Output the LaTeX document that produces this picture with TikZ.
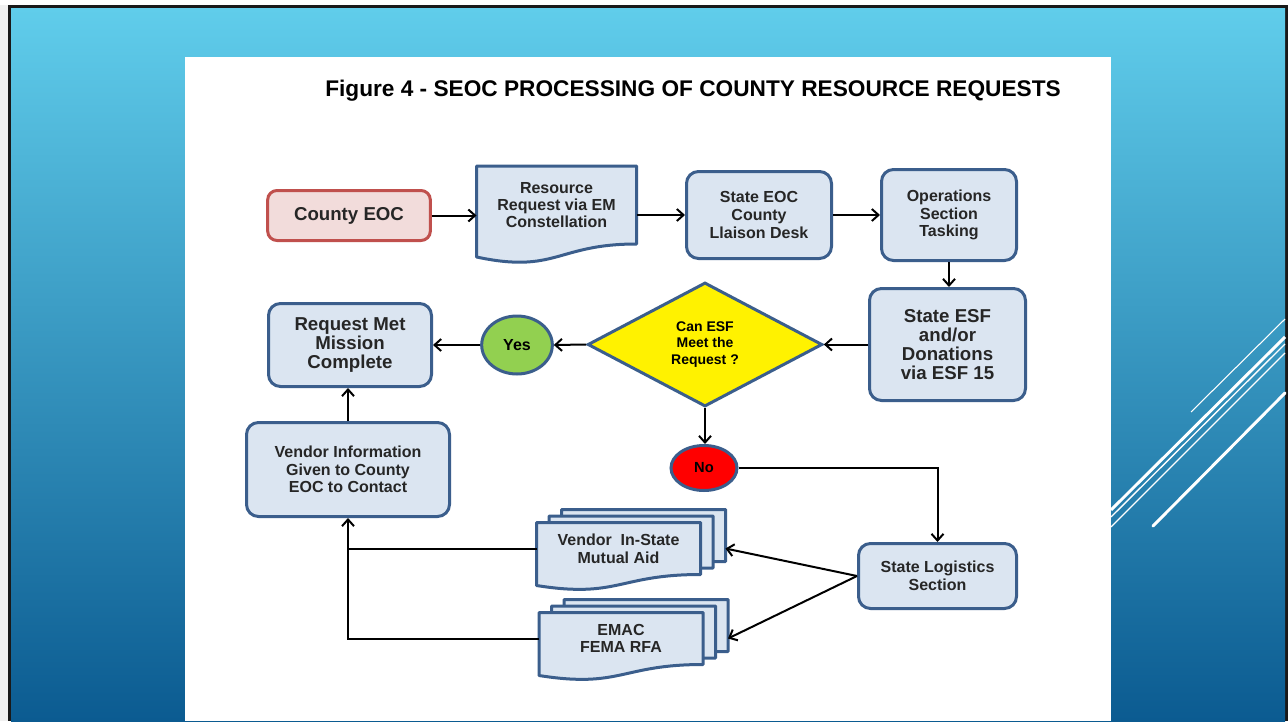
\documentclass[tikz,border=0pt]{standalone}
\usepackage{fontspec}
\setmainfont{Liberation Sans}
\usetikzlibrary{arrows.meta,shapes.geometric,calc}
\definecolor{boxfill}{HTML}{DBE5F1}
\definecolor{boxline}{HTML}{3B5E8C}
\definecolor{countyfill}{HTML}{F2DCDB}
\definecolor{countyline}{HTML}{C0504D}
\definecolor{yesgreen}{HTML}{92D050}
\definecolor{skytop}{HTML}{60CDEB}
\definecolor{skybot}{HTML}{0B5B91}
\pgfdeclarelayer{slide}
\pgfdeclarelayer{paper}
\pgfsetlayers{slide,paper,main}
% page outline with the wavy lower edge, hung on a node
\newcommand{\docpage}[3]{\draw[page] (#1.north west) -- (#1.north east) -- (#1.south east)
	.. controls (#1.south) and ($(#1.south)+(0,#3)$) .. ($(#1.south west)+(0,#2)$) -- cycle;}
\begin{document}
\begin{tikzpicture}[x=0.75pt,y=-0.75pt,
	box/.style={rectangle, rounded corners=9pt, draw=boxline, fill=boxfill, line width=2.25pt, align=center, text=black!85, inner sep=2pt},
	sheet/.style={rectangle, inner sep=0pt, outer sep=0pt, align=center, text=black!85, minimum width=123pt, minimum height=39pt},
	page/.style={draw=boxline, fill=boxfill, line width=2.25pt, line join=round},
	link/.style={-{Straight Barb[length=5pt,width=9pt]}, line width=1.5pt},
	big/.style={font=\fontsize{14}{14.25}\selectfont\bfseries},
	small/.style={font=\fontsize{12}{13.2}\selectfont\bfseries}]
	\useasboundingbox (0,0) rectangle (1288,721);
	% slide behind the figure
	\begin{pgfonlayer}{slide}
		\fill[white] (0,0) rectangle (1288,721);
		\fill[black!6] (0,5) rectangle (8,721);
		\fill[black!90] (8,5) rectangle (1288,721);
		\shade[top color=skytop, bottom color=skybot] (11,8) rectangle (1285,721);
		\draw[white, line width=0.8pt] (1191,412) -- (1285,319);
		\draw[white, line width=2.2pt] (1111,510) -- (1285,337);
		\draw[white, line width=1pt] (1111,517) -- (1285,344);
		\draw[white, line width=1pt] (1111,527) -- (1285,353);
		\draw[white, line width=2.2pt, line cap=round] (1153,526) -- (1285,393);
		\fill[white] (185,57) rectangle (1111,721);
	\end{pgfonlayer}

	\node (title) at (693, 91)	[font=\fontsize{17}{20}\selectfont\bfseries]	{Figure 4 - SEOC PROCESSING OF COUNTY RESOURCE REQUESTS};
	\node (county) at (349, 215.5)	[box, big, rounded corners=7pt, draw=countyline, fill=countyfill, minimum width=122pt, minimum height=37.5pt]	{County EOC};
	\node (resource) at (556.5, 205)	[sheet, font=\fontsize{12}{12.75}\selectfont\bfseries, minimum width=120pt, minimum height=58.5pt]	{Resource\\Request via EM\\Constellation};
	\node (stateeoc) at (759, 215)	[box, small, minimum width=108.75pt, minimum height=65.25pt]	{State EOC\\County\\Llaison Desk};
	\node (ops) at (949, 215)	[box, small, minimum width=101.25pt, minimum height=68.25pt]	{Operations\\Section\\Tasking};
	\node (esf) at (947.5, 344.5)	[box, big, minimum width=117pt, minimum height=84pt]	{State ESF\\and/or\\Donations\\via ESF 15};
	\node (decision) at (705, 344.5)	[diamond, draw=boxline, fill=yellow, line width=2.25pt, inner sep=0pt, minimum width=176pt, minimum height=93pt, align=center, font=\fontsize{10.5}{12.4}\selectfont\bfseries]	{Can ESF\\Meet the\\Request ?};
	\node (yes) at (517, 345)	[ellipse, draw=boxline, fill=yesgreen, line width=2.25pt, inner sep=0pt, minimum width=53pt, minimum height=43.5pt, small]	{Yes};
	\node (met) at (350, 345)	[box, big, minimum width=122.25pt, minimum height=62.25pt]	{Request Met\\Mission\\Complete};
	\node (vinfo) at (348, 469.5)	[box, small, minimum width=152.25pt, minimum height=70.5pt]	{Vendor Information\\Given to County\\EOC to Contact};
	\node (no) at (704, 468)	[ellipse, draw=boxline, fill=red, line width=2.25pt, inner sep=0pt, minimum width=49.5pt, minimum height=33.75pt, font=\fontsize{11}{13}\selectfont\bfseries]	{No};
	\node (logistics) at (937.5, 576)	[box, small, minimum width=118.5pt, minimum height=48.75pt]	{State Logistics\\Section};
	\node (vendor) at (618.5, 548.5)	[sheet, small]	{Vendor\ \ In-State\\Mutual Aid};
	\node (vendorb) at ($(vendor)+(12.5,-6.5)$)	[sheet]	{};
	\node (vendorc) at ($(vendor)+(25,-13)$)	[sheet]	{};
	\node (emac) at (621, 638.5)	[sheet, small]	{EMAC\\FEMA RFA};
	\node (emacb) at ($(emac)+(12.5,-6.5)$)	[sheet]	{};
	\node (emacc) at ($(emac)+(25,-13)$)	[sheet]	{};

	\begin{pgfonlayer}{paper}
		\docpage{resource}{13}{30}
		\foreach \p in {vendorc,vendorb,vendor,emacc,emacb,emac} {\docpage{\p}{11}{24}}
	\end{pgfonlayer}

	\draw[link] (county.east) -- (county.east -| resource.west);
	\draw[link] (stateeoc.west -| resource.east) -- (stateeoc.west);
	\draw[link] (stateeoc.east) -- (ops.west);
	\draw[link] (ops.south) -- (ops.south |- esf.north);
	\draw[link] (esf.west) -- (decision.east);
	\draw[link] (decision.west) -- (yes.east);
	\draw[link] (yes.west) -- (yes.west -| met.east);
	\draw[link] (decision.south) -- (decision.south |- no.north);
	\draw[link] (no.east) -| (logistics.north);
	\draw[link] (logistics.west) -- (vendorc.east |- vendor.east);
	\draw[link] (logistics.west) -- (emacc.east |- emac.east);
	\draw[line width=1.5pt] (vendor.west) -- (vendor.west -| vinfo.south);
	\draw[link] (emac.west) -| (vinfo.south);
	\draw[link] (vinfo.north) -- (vinfo.north |- met.south);
\end{tikzpicture}
\end{document}
